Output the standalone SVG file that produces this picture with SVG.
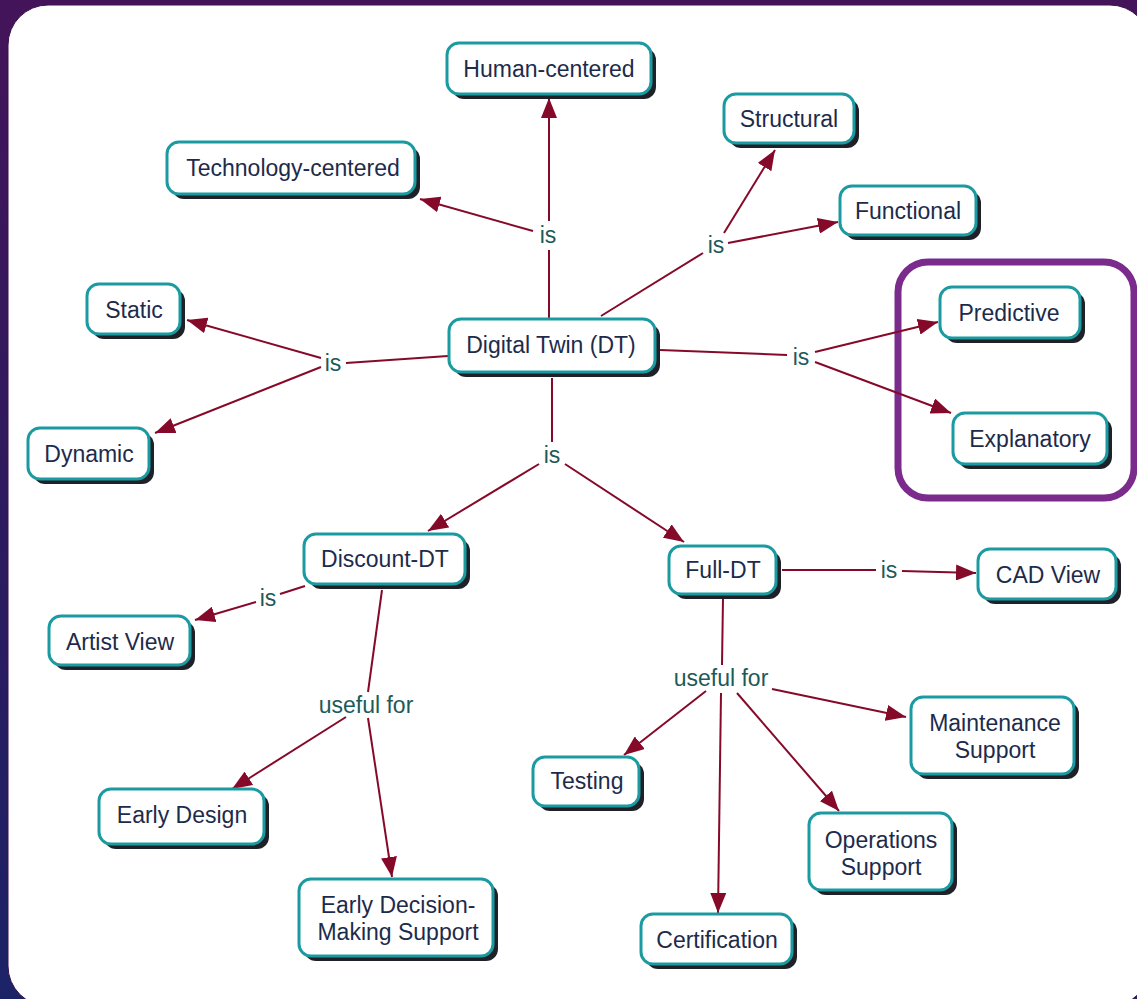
<svg xmlns="http://www.w3.org/2000/svg" width="1137" height="999" viewBox="0 0 1137 999">
  <defs>
    <linearGradient id="bg" x1="0" y1="0" x2="0" y2="1">
      <stop offset="0" stop-color="#44145a"/>
      <stop offset="0.5" stop-color="#2e1a5e"/>
      <stop offset="1" stop-color="#1b2366"/>
    </linearGradient>
    <marker id="arrow" viewBox="0 0 20 16" refX="20" refY="8" markerWidth="20" markerHeight="16" markerUnits="userSpaceOnUse" orient="auto">
      <path d="M0,0 L20,8 L0,16 z" fill="#850a2a"/>
    </marker>
    <style>
      .node rect.shadow { fill: #1e2228; }
      .node rect.box { fill: #ffffff; stroke: #1b9ba1; stroke-width: 3; }
      .node text { font-family: "Liberation Sans", Arial, sans-serif; font-size: 23px; fill: #1d2b4b; text-anchor: middle; dominant-baseline: central; }
      .links line { stroke: #850a2a; stroke-width: 2; }
      .links line.arr { marker-end: url(#arrow); }
      .lbl { font-family: "Liberation Sans", Arial, sans-serif; font-size: 23px; fill: #1d5a5a; text-anchor: middle; dominant-baseline: central; }
    </style>
  </defs>

  <!-- backdrop and panel -->
  <rect x="0" y="0" width="1137" height="999" fill="url(#bg)"/>
  <rect x="8" y="5" width="1142" height="1001" rx="40" ry="40" fill="#ffffff" stroke="#3a1050" stroke-width="1"/>

  <!-- highlight frame -->
  <rect x="898" y="262" width="236" height="236" rx="30" ry="30" fill="none" stroke="#7b2b8c" stroke-width="7"/>

  <!-- connectors -->
  <g class="links">
    <line x1="549" y1="318" x2="549" y2="250"/>
    <line class="arr" x1="549" y1="221" x2="549" y2="98"/>
    <line class="arr" x1="533" y1="231" x2="420" y2="199"/>

    <line x1="601" y1="316" x2="703" y2="253"/>
    <line class="arr" x1="724" y1="233" x2="775" y2="150"/>
    <line class="arr" x1="728" y1="243" x2="838" y2="222"/>

    <line x1="448" y1="356" x2="346" y2="363"/>
    <line class="arr" x1="321" y1="358" x2="187" y2="320"/>
    <line class="arr" x1="321" y1="367" x2="155" y2="433"/>

    <line x1="660" y1="350" x2="787" y2="355"/>
    <line class="arr" x1="815" y1="352" x2="938" y2="322"/>
    <line class="arr" x1="815" y1="362" x2="951" y2="413"/>

    <line x1="552" y1="378" x2="552" y2="442"/>
    <line class="arr" x1="539" y1="464" x2="428" y2="531"/>
    <line class="arr" x1="565" y1="464" x2="684" y2="542"/>

    <line x1="782" y1="570" x2="876" y2="570"/>
    <line class="arr" x1="902" y1="571" x2="976" y2="573"/>

    <line x1="305" y1="586" x2="280" y2="594"/>
    <line class="arr" x1="256" y1="602" x2="195" y2="620"/>

    <line x1="382" y1="590" x2="368" y2="692"/>
    <line class="arr" x1="346" y1="717" x2="232" y2="789"/>
    <line class="arr" x1="368" y1="718" x2="392" y2="877"/>

    <line x1="723" y1="598" x2="722" y2="665"/>
    <line class="arr" x1="706" y1="691" x2="624" y2="755"/>
    <line class="arr" x1="772" y1="689" x2="906" y2="717"/>
    <line class="arr" x1="737" y1="693" x2="839" y2="811"/>
    <line class="arr" x1="721" y1="693" x2="718" y2="913"/>
  </g>

  <!-- connector labels -->
  <g id="labels">
    <text class="lbl" x="548" y="235">is</text>
    <text class="lbl" x="716" y="245">is</text>
    <text class="lbl" x="333" y="363">is</text>
    <text class="lbl" x="801" y="357">is</text>
    <text class="lbl" x="552" y="455">is</text>
    <text class="lbl" x="889" y="570">is</text>
    <text class="lbl" x="268" y="598">is</text>
    <text class="lbl" x="366" y="705">useful for</text>
    <text class="lbl" x="721" y="678">useful for</text>
  </g>

  <!-- concept nodes -->
  <g id="human-centered" class="node">
    <rect class="shadow" x="452" y="48" width="204" height="51" rx="12"/>
    <rect class="box" x="447" y="43" width="204" height="51" rx="12"/>
    <text x="549" y="69">Human-centered</text>
  </g>
  <g id="structural" class="node">
    <rect class="shadow" x="729" y="99" width="130" height="49" rx="12"/>
    <rect class="box" x="724" y="94" width="130" height="49" rx="12"/>
    <text x="789" y="119">Structural</text>
  </g>
  <g id="technology-centered" class="node">
    <rect class="shadow" x="172" y="147" width="248" height="52" rx="12"/>
    <rect class="box" x="167" y="142" width="248" height="52" rx="12"/>
    <text x="293" y="168">Technology-centered</text>
  </g>
  <g id="functional" class="node">
    <rect class="shadow" x="845" y="191" width="136" height="49" rx="12"/>
    <rect class="box" x="840" y="186" width="136" height="49" rx="12"/>
    <text x="908" y="211">Functional</text>
  </g>
  <g id="static" class="node">
    <rect class="shadow" x="92" y="289" width="93" height="50" rx="12"/>
    <rect class="box" x="87" y="284" width="93" height="50" rx="12"/>
    <text x="134" y="310">Static</text>
  </g>
  <g id="digital-twin" class="node">
    <rect class="shadow" x="454" y="324" width="206" height="53" rx="12"/>
    <rect class="box" x="449" y="319" width="206" height="53" rx="12"/>
    <text x="551" y="345">Digital Twin (DT)</text>
  </g>
  <g id="predictive" class="node">
    <rect class="shadow" x="945" y="292" width="140" height="51" rx="12"/>
    <rect class="box" x="940" y="287" width="140" height="51" rx="12"/>
    <text x="1009" y="313">Predictive</text>
  </g>
  <g id="explanatory" class="node">
    <rect class="shadow" x="958" y="418" width="154" height="51" rx="12"/>
    <rect class="box" x="953" y="413" width="154" height="51" rx="12"/>
    <text x="1030" y="439">Explanatory</text>
  </g>
  <g id="dynamic" class="node">
    <rect class="shadow" x="33" y="433" width="121" height="51" rx="12"/>
    <rect class="box" x="28" y="428" width="121" height="51" rx="12"/>
    <text x="89" y="454">Dynamic</text>
  </g>
  <g id="discount-dt" class="node">
    <rect class="shadow" x="309" y="539" width="161" height="50" rx="12"/>
    <rect class="box" x="304" y="534" width="161" height="50" rx="12"/>
    <text x="385" y="559">Discount-DT</text>
  </g>
  <g id="full-dt" class="node">
    <rect class="shadow" x="674" y="551" width="107" height="48" rx="12"/>
    <rect class="box" x="669" y="546" width="107" height="48" rx="12"/>
    <text x="723" y="570">Full-DT</text>
  </g>
  <g id="cad-view" class="node">
    <rect class="shadow" x="983" y="554" width="138" height="50" rx="12"/>
    <rect class="box" x="978" y="549" width="138" height="50" rx="12"/>
    <text x="1048" y="575">CAD View</text>
  </g>
  <g id="artist-view" class="node">
    <rect class="shadow" x="54" y="621" width="141" height="49" rx="12"/>
    <rect class="box" x="49" y="616" width="141" height="49" rx="12"/>
    <text x="120" y="642">Artist View</text>
  </g>
  <g id="maintenance-support" class="node">
    <rect class="shadow" x="916" y="702" width="163" height="77" rx="12"/>
    <rect class="box" x="911" y="697" width="163" height="77" rx="12"/>
    <text x="995" y="723">Maintenance</text>
    <text x="995" y="750">Support</text>
  </g>
  <g id="testing" class="node">
    <rect class="shadow" x="538" y="762" width="106" height="49" rx="12"/>
    <rect class="box" x="533" y="757" width="106" height="49" rx="12"/>
    <text x="587" y="781">Testing</text>
  </g>
  <g id="early-design" class="node">
    <rect class="shadow" x="104" y="794" width="165" height="55" rx="12"/>
    <rect class="box" x="99" y="789" width="165" height="55" rx="12"/>
    <text x="182" y="815">Early Design</text>
  </g>
  <g id="operations-support" class="node">
    <rect class="shadow" x="814" y="818" width="143" height="77" rx="12"/>
    <rect class="box" x="809" y="813" width="143" height="77" rx="12"/>
    <text x="881" y="840">Operations</text>
    <text x="881" y="867">Support</text>
  </g>
  <g id="early-decision-making-support" class="node">
    <rect class="shadow" x="304" y="884" width="194" height="77" rx="12"/>
    <rect class="box" x="299" y="879" width="194" height="77" rx="12"/>
    <text x="398" y="905">Early Decision-</text>
    <text x="398" y="932">Making Support</text>
  </g>
  <g id="certification" class="node">
    <rect class="shadow" x="646" y="919" width="151" height="50" rx="12"/>
    <rect class="box" x="641" y="914" width="151" height="50" rx="12"/>
    <text x="717" y="940">Certification</text>
  </g>
</svg>
